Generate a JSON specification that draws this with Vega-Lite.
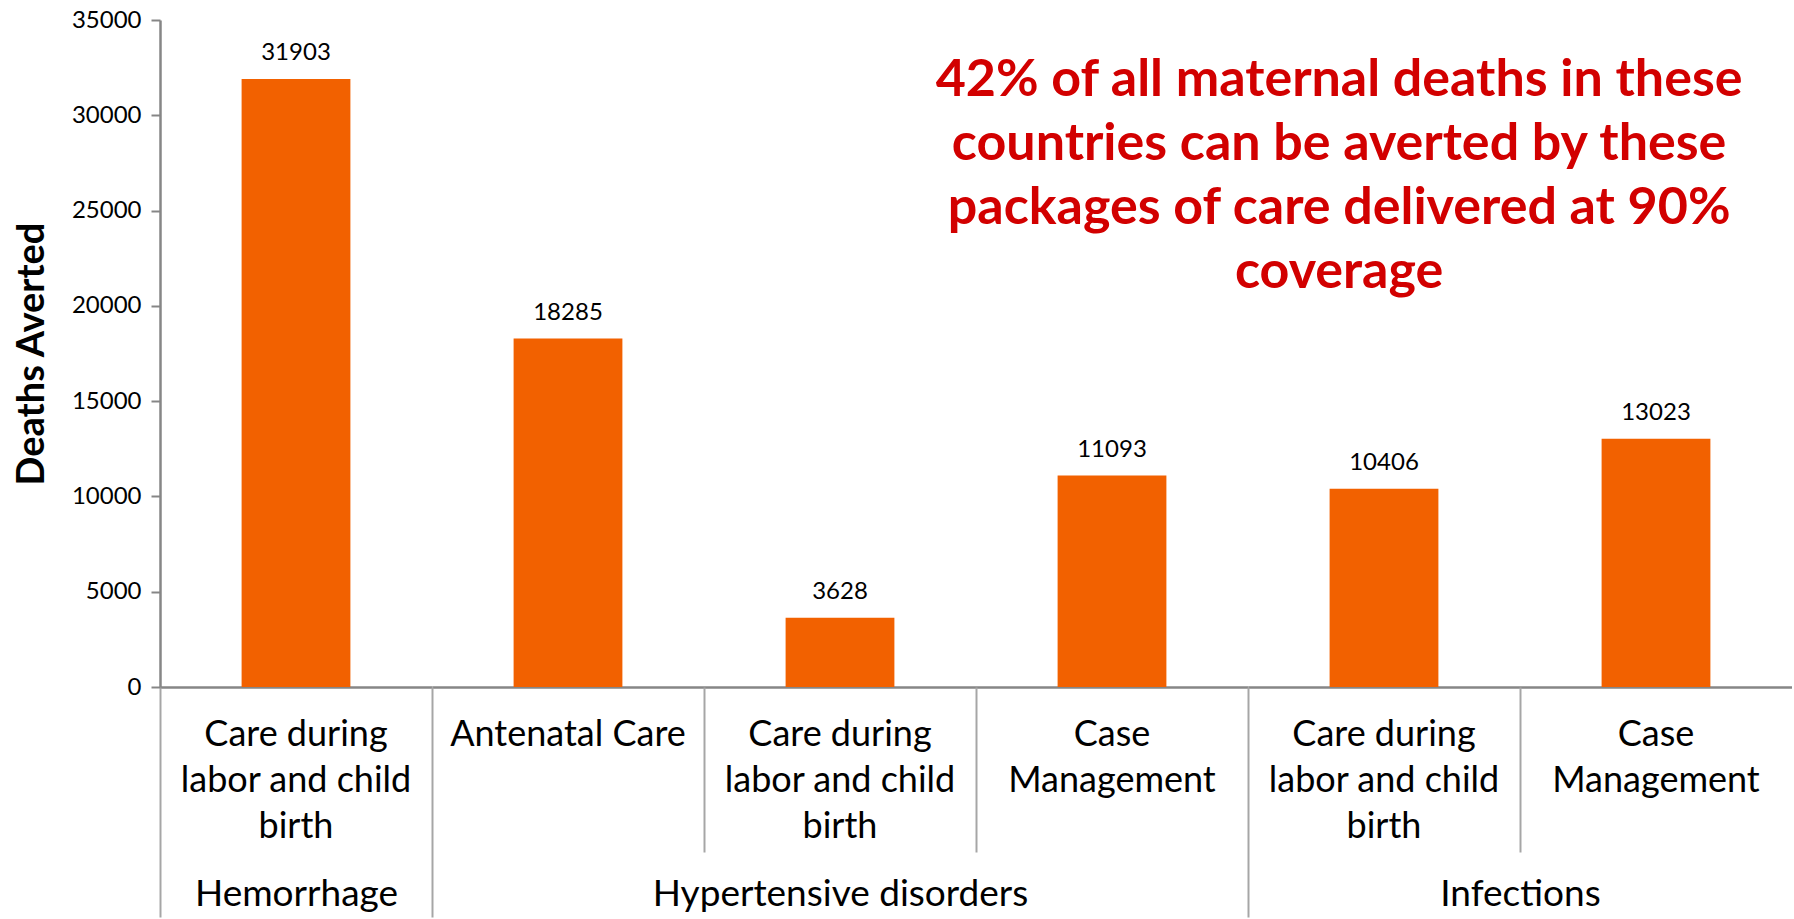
{
  "$schema": "https://vega.github.io/schema/vega-lite/v6.json",
  "padding": {"left": 13, "top": 8, "right": 0, "bottom": 0},
  "bounds": "flush",
  "spacing": 0,
  "config": {"view": {"stroke": null}, "font": "Lato", "axis": {"grid": false}},
  "datasets": {
    "bars": [
      {"group": "Hemorrhage", "category": "Care during labor and child birth", "deaths": 31903},
      {"group": "Hypertensive disorders", "category": "Antenatal Care", "deaths": 18285},
      {"group": "Hypertensive disorders", "category": "Care during labor and child birth", "deaths": 3628},
      {"group": "Hypertensive disorders", "category": "Case Management", "deaths": 11093},
      {"group": "Infections", "category": "Care during labor and child birth", "deaths": 10406},
      {"group": "Infections", "category": "Case Management", "deaths": 13023}
    ],
    "note": [
      {"note": "42% of all maternal deaths in these\ncountries can be averted by these\npackages of care delivered at 90%\ncoverage"}
    ]
  },
  "hconcat": [
    {
      "width": 272, "height": 667,
      "data": {"name": "bars"},
      "transform": [{"filter": "datum.group == 'Hemorrhage'"}],
      "layer": [
        {
          "mark": {"type": "bar", "color": "#F26100", "width": {"band": 0.4}},
          "encoding": {
            "x": {"field": "category", "type": "nominal", "sort": null, "scale": {"paddingInner": 0, "paddingOuter": 0},
              "axis": {"orient": "bottom", "title": "Hemorrhage", "titleFontSize": 37, "titleFontWeight": "normal", "titleColor": "#000000", "titlePadding": 32,
                "labelAngle": 0, "labelFontSize": 36, "labelLineHeight": 46, "labelPadding": 30, "labelColor": "#000000", "labelLimit": 400,
                "labelExpr": "datum.value == 'Care during labor and child birth' ? ['Care during', 'labor and child', 'birth'] : datum.value == 'Case Management' ? ['Case', 'Management'] : datum.label",
                "ticks": false, "domainColor": "#868686", "domainWidth": 2.5}},
            "y": {"field": "deaths", "type": "quantitative", "title": "Deaths Averted", "scale": {"domain": [0, 35000]},
              "axis": {"values": [0, 5000, 10000, 15000, 20000, 25000, 30000, 35000], "format": "d", "labelFontSize": 24, "labelColor": "#000000", "labelPadding": 10,
                "tickSize": 9, "tickColor": "#868686", "tickWidth": 2, "domainColor": "#868686", "domainWidth": 2.5,
                "titleFontSize": 38, "titleFontWeight": "bold", "titleColor": "#000000", "titlePadding": 20}}
          }
        },
        {
          "mark": {"type": "text", "baseline": "alphabetic", "dy": -19, "fontSize": 24, "color": "#000000"},
          "encoding": {
            "x": {"field": "category", "type": "nominal", "sort": null,
              "axis": {"orient": "bottom", "title": null, "labels": false, "domain": false, "bandPosition": 0, "tickColor": "#A6A6A6", "tickWidth": 2,
                "tickSize": {"condition": {"test": "datum.index == 0", "value": 230}, "value": 165}}},
            "y": {"field": "deaths", "type": "quantitative", "title": "Deaths Averted"},
            "text": {"field": "deaths", "type": "quantitative", "format": "d"}
          }
        }
      ],
      "resolve": {"axis": {"x": "independent"}}
    },
    {
      "width": 816, "height": 667,
      "data": {"name": "bars"},
      "transform": [{"filter": "datum.group == 'Hypertensive disorders'"}],
      "layer": [
        {
          "mark": {"type": "bar", "color": "#F26100", "width": {"band": 0.4}},
          "encoding": {
            "x": {"field": "category", "type": "nominal", "sort": null, "scale": {"paddingInner": 0, "paddingOuter": 0},
              "axis": {"orient": "bottom", "title": "Hypertensive disorders", "titleFontSize": 37, "titleFontWeight": "normal", "titleColor": "#000000", "titlePadding": 32,
                "labelAngle": 0, "labelFontSize": 36, "labelLineHeight": 46, "labelPadding": 30, "labelColor": "#000000", "labelLimit": 400,
                "labelExpr": "datum.value == 'Care during labor and child birth' ? ['Care during', 'labor and child', 'birth'] : datum.value == 'Case Management' ? ['Case', 'Management'] : datum.label",
                "ticks": false, "domainColor": "#868686", "domainWidth": 2.5}},
            "y": {"field": "deaths", "type": "quantitative", "scale": {"domain": [0, 35000]}, "axis": null}
          }
        },
        {
          "mark": {"type": "text", "baseline": "alphabetic", "dy": -19, "fontSize": 24, "color": "#000000"},
          "encoding": {
            "x": {"field": "category", "type": "nominal", "sort": null,
              "axis": {"orient": "bottom", "title": null, "labels": false, "domain": false, "bandPosition": 0, "tickColor": "#A6A6A6", "tickWidth": 2,
                "tickSize": {"condition": {"test": "datum.index == 0", "value": 230}, "value": 165}}},
            "y": {"field": "deaths", "type": "quantitative", "axis": null},
            "text": {"field": "deaths", "type": "quantitative", "format": "d"}
          }
        }
      ],
      "resolve": {"axis": {"x": "independent"}}
    },
    {
      "width": 544, "height": 667,
      "data": {"name": "bars"},
      "transform": [{"filter": "datum.group == 'Infections'"}],
      "layer": [
        {
          "mark": {"type": "bar", "color": "#F26100", "width": {"band": 0.4}},
          "encoding": {
            "x": {"field": "category", "type": "nominal", "sort": null, "scale": {"paddingInner": 0, "paddingOuter": 0},
              "axis": {"orient": "bottom", "title": "Infections", "titleFontSize": 37, "titleFontWeight": "normal", "titleColor": "#000000", "titlePadding": 32,
                "labelAngle": 0, "labelFontSize": 36, "labelLineHeight": 46, "labelPadding": 30, "labelColor": "#000000", "labelLimit": 400,
                "labelExpr": "datum.value == 'Care during labor and child birth' ? ['Care during', 'labor and child', 'birth'] : datum.value == 'Case Management' ? ['Case', 'Management'] : datum.label",
                "ticks": false, "domainColor": "#868686", "domainWidth": 2.5}},
            "y": {"field": "deaths", "type": "quantitative", "scale": {"domain": [0, 35000]}, "axis": null}
          }
        },
        {
          "mark": {"type": "text", "baseline": "alphabetic", "dy": -19, "fontSize": 24, "color": "#000000"},
          "encoding": {
            "x": {"field": "category", "type": "nominal", "sort": null,
              "axis": {"orient": "bottom", "title": null, "labels": false, "domain": false, "bandPosition": 0, "tickColor": "#A6A6A6", "tickWidth": 2,
                "tickSize": {"condition": {"test": "datum.index == 0", "value": 230}, "value": 165}}},
            "y": {"field": "deaths", "type": "quantitative", "axis": null},
            "text": {"field": "deaths", "type": "quantitative", "format": "d"}
          }
        },
        {
          "data": {"name": "note"},
          "mark": {"type": "text", "lineBreak": "\n", "lineHeight": 64, "fontSize": 52, "fontWeight": "bold", "color": "#D20000", "align": "center", "baseline": "middle"},
          "encoding": {
            "x": {"datum": "Care during labor and child birth", "type": "nominal", "bandPosition": 0.335, "axis": null},
            "y": {"datum": 31850, "type": "quantitative", "axis": null},
            "text": {"field": "note", "type": "nominal"}
          }
        }
      ],
      "resolve": {"axis": {"x": "independent"}}
    }
  ]
}
